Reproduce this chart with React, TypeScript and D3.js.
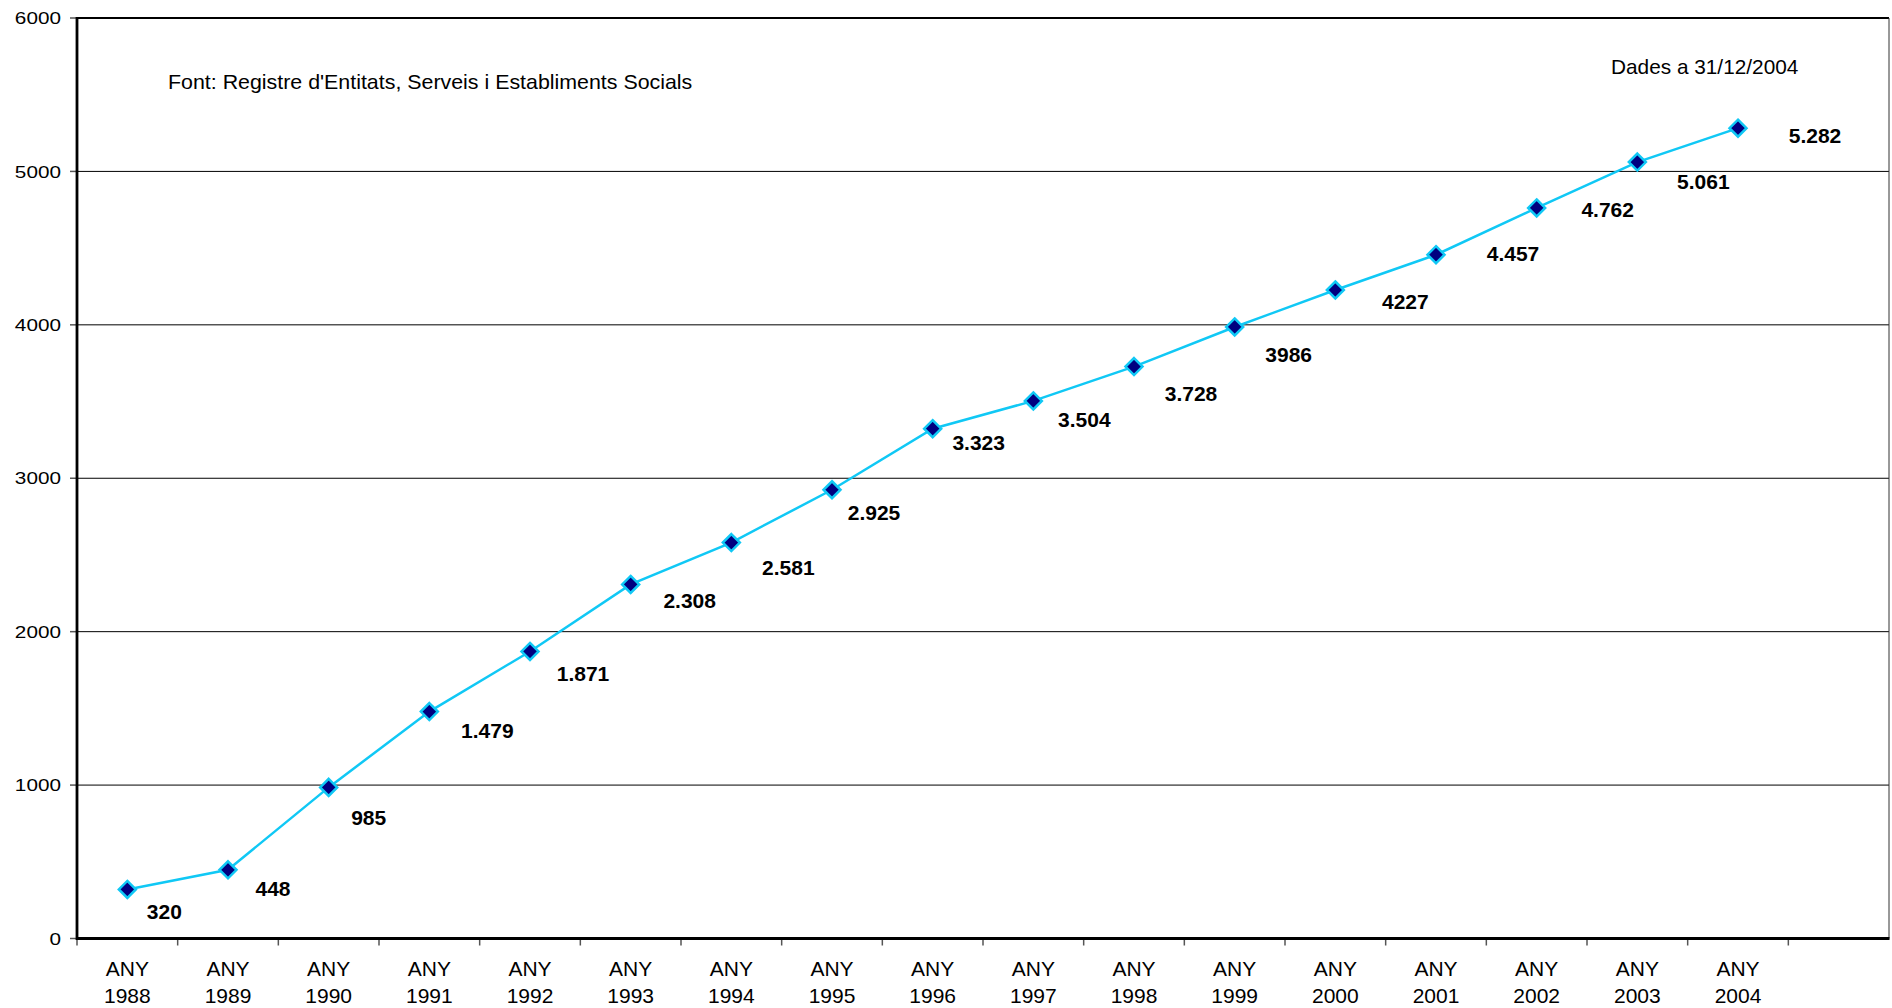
import React from "react";
import * as d3 from "d3";

const years = ["1988","1989","1990","1991","1992","1993","1994","1995","1996","1997","1998","1999","2000","2001","2002","2003","2004"];
const values = [320, 448, 985, 1479, 1871, 2308, 2581, 2925, 3323, 3504, 3728, 3986, 4227, 4457, 4762, 5061, 5282];
const valueLabels = ["320","448","985","1.479","1.871","2.308","2.581","2.925","3.323","3.504","3.728","3986","4227","4.457","4.762","5.061","5.282"];
// label nudges relative to the point (dx, dy) in px, as placed in the original
const labelNudgeX = [37, 45, 40, 58, 53, 59, 57, 42, 46, 51, 57, 54, 70, 77, 71, 66, 77];
const labelNudgeY = [22, 19, 30, 19, 22, 16, 25, 23, 14, 19, 27, 27, 11, -1, 2, 19, 7];
const yTicks = [0, 1000, 2000, 3000, 4000, 5000, 6000];
const sourceNote = "Font: Registre d'Entitats, Serveis i Establiments Socials";
const dateNote = "Dades a 31/12/2004";

const W = 1892, H = 1008;
const L = 77, R = 1889, T = 18, B = 938.5;
const FONT = "Arial, Helvetica, sans-serif";

export default function App() {
  const domain = [...years, "__empty__"];
  const x = d3.scaleBand<string>().domain(domain).range([L, R]).padding(0);
  const y = d3.scaleLinear().domain([0, 6000]).range([B, T]);
  const cx = (yr: string) => (x(yr) as number) + x.bandwidth() / 2;
  const line = d3.line<number>().x((_, i) => cx(years[i])).y((v) => y(v));
  const dsz = 8.5;
  const diamondPath = `M0,${-dsz}L${dsz},0L0,${dsz}L${-dsz},0Z`;

  return (
    <svg width={W} height={H} style={{ position: "absolute", left: 0, top: 0, background: "#fff" }} fontFamily={FONT}>
      {yTicks.filter((t) => t > 0 && t < 6000).map((t) => (
        <line key={t} x1={L} x2={R} y1={y(t)} y2={y(t)} stroke="#000" strokeWidth={1} />
      ))}
      <line x1={L} x2={R} y1={y(6000)} y2={y(6000)} stroke="#000" strokeWidth={2} />
      <line x1={R} x2={R} y1={T} y2={B} stroke="#333" strokeWidth={1} />
      {yTicks.map((t) => (
        <g key={t}>
          <line x1={L - 7} x2={L} y1={y(t)} y2={y(t)} stroke="#555" strokeWidth={1.5} />
          <text transform={`translate(61,${y(t)}) scale(1.22,1)`} dy="0.36em" textAnchor="end" fontSize={17} fill="#000">{t}</text>
        </g>
      ))}
      {domain.map((d) => (
        <line key={d} x1={x(d) as number} x2={x(d) as number} y1={B} y2={B + 7} stroke="#555" strokeWidth={1.5} />
      ))}
      {years.map((yr) => (
        <text key={yr} x={cx(yr)} y={976} textAnchor="middle" fontSize={21} fill="#000">
          <tspan x={cx(yr)}>ANY</tspan>
          <tspan x={cx(yr)} dy={27}>{yr}</tspan>
        </text>
      ))}
      <line x1={L} x2={L} y1={T - 1} y2={B + 1.5} stroke="#000" strokeWidth={2.8} />
      <line x1={L - 1} x2={R + 0.5} y1={B} y2={B} stroke="#000" strokeWidth={2.8} />
      <path d={line(values) ?? ""} fill="none" stroke="#10C8F5" strokeWidth={2.5} />
      {values.map((v, i) => (
        <path key={i} d={diamondPath} transform={`translate(${cx(years[i])},${y(v)})`} fill="#000080" stroke="#10C8F5" strokeWidth={2.5} />
      ))}
      {values.map((v, i) => (
        <text key={i} x={cx(years[i]) + labelNudgeX[i]} y={y(v) + labelNudgeY[i]} dy="0.36em" textAnchor="middle" fontSize={21} fontWeight="bold" fill="#000">
          {valueLabels[i]}
        </text>
      ))}
      <text transform="translate(168,89) scale(1.08,1)" fontSize={19.8} fill="#000">{sourceNote}</text>
      <text x={1611} y={74} fontSize={20.8} fill="#000">{dateNote}</text>
    </svg>
  );
}
